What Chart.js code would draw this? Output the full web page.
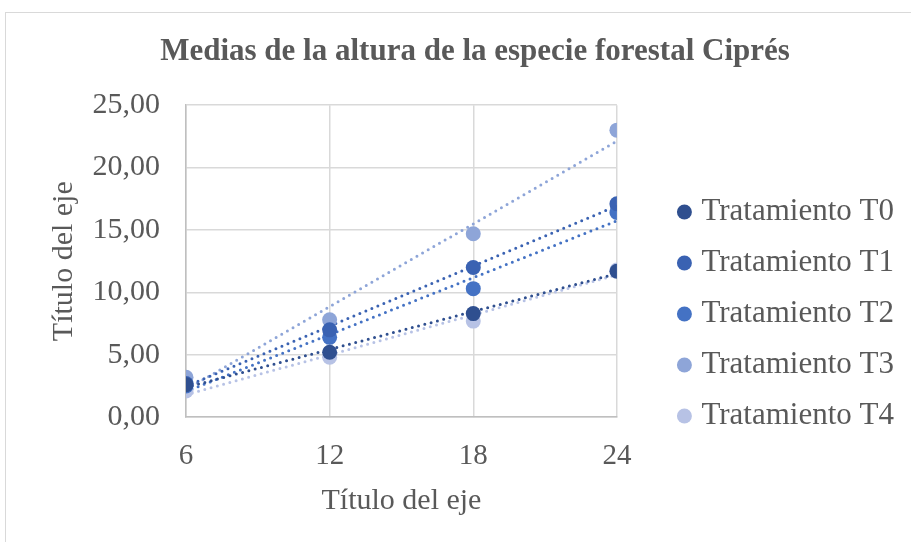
<!DOCTYPE html>
<html>
<head>
<meta charset="utf-8">
<script src="https://cdn.jsdelivr.net/npm/chart.js@4.4.0/dist/chart.umd.min.js"></script>
<style>
  html, body { margin: 0; padding: 0; background: #ffffff; overflow: hidden; }
  #frame { position: absolute; left: 5px; top: 12px; width: 1000px; height: 1000px; border: 1px solid #d9d9d9; box-sizing: border-box; }
  #wrap { position: absolute; left: 0; top: 0; width: 911px; height: 542px; }
</style>
</head>
<body>
<div id="frame"></div>
<div id="wrap"><canvas id="chart" width="911" height="542"></canvas></div>
<script>
// Edad de medición (meses) y altura media por tratamiento
const months = [6, 12, 18, 24];
const seriesNames = ['Tratamiento T0', 'Tratamiento T1', 'Tratamiento T2', 'Tratamiento T3', 'Tratamiento T4'];
const t0 = [2.6, 5.2, 8.3, 11.7];
const t1 = [2.7, 7.0, 12.0, 17.1];
const t2 = [2.5, 6.4, 10.3, 16.4];
const t3 = [3.2, 7.8, 14.7, 23.0];
const t4 = [2.1, 4.8, 7.7, 11.8];
const seriesValues = [t0, t1, t2, t3, t4];
const seriesColors = ['#2f4f8f', '#3a62b2', '#4472c4', '#8ea5d8', '#b7c2e5'];

// Recta de tendencia lineal por mínimos cuadrados
function linearTrend(xs, ys) {
  const n = xs.length;
  const mx = xs.reduce((a, b) => a + b, 0) / n;
  const my = ys.reduce((a, b) => a + b, 0) / n;
  let sxy = 0, sxx = 0;
  for (let i = 0; i < n; i++) {
    sxy += (xs[i] - mx) * (ys[i] - my);
    sxx += (xs[i] - mx) * (xs[i] - mx);
  }
  const slope = sxy / sxx;
  const icpt = my - slope * mx;
  const x0 = xs[0], x1 = xs[n - 1];
  return [{ x: x0, y: icpt + slope * x0 }, { x: x1, y: icpt + slope * x1 }];
}

const FONT = "'Liberation Serif', 'Times New Roman', serif";
const GREY = '#595959';

const datasets = [];
seriesValues.forEach((vals, i) => {
  datasets.push({
    type: 'scatter',
    label: seriesNames[i],
    data: months.map((m, j) => ({ x: m, y: vals[j] })),
    backgroundColor: seriesColors[i],
    borderColor: seriesColors[i],
    pointRadius: 7.5,
    pointHoverRadius: 7.5,
    borderWidth: 0,
    order: 0
  });
});
seriesValues.forEach((vals, i) => {
  datasets.push({
    type: 'line',
    label: 'trend-' + i,
    data: linearTrend(months, vals),
    borderColor: seriesColors[i],
    borderWidth: 3,
    borderDash: [0, 6.5],
    borderCapStyle: 'round',
    pointRadius: 0,
    fill: false,
    tension: 0,
    order: 1
  });
});

new Chart(document.getElementById('chart'), {
  data: { datasets },
  options: {
    responsive: false,
    animation: false,
    layout: { padding: { left: 46, right: 7, top: 0, bottom: 23 } },
    plugins: {
      tooltip: { enabled: false },
      title: {
        display: true,
        text: 'Medias de la altura de la especie forestal Ciprés',
        color: GREY,
        font: { family: FONT, size: 31, weight: 'bold' },
        padding: { top: 33, bottom: 35 }
      },
      legend: {
        position: 'right',
        maxWidth: 300,
        title: { display: true, text: ' ', font: { size: 10 }, padding: { top: 97, bottom: 0 } },
        labels: {
          filter: (item) => item.datasetIndex < seriesNames.length,
          usePointStyle: true,
          pointStyle: 'circle',
          boxWidth: 3,
          boxHeight: 10.6,
          padding: 20,
          color: GREY,
          font: { family: FONT, size: 31 }
        }
      }
    },
    scales: {
      x: {
        type: 'linear',
        min: 6,
        max: 24,
        ticks: {
          stepSize: 6,
          color: GREY,
          padding: 22,
          font: { family: FONT, size: 29 }
        },
        grid: { color: '#d9d9d9', lineWidth: 1.5, tickLength: 0 },
        border: { color: '#bfbfbf', width: 1.5 },
        title: {
          display: true,
          text: 'Título del eje',
          color: GREY,
          font: { family: FONT, size: 30 },
          padding: { top: -13, bottom: 0 }
        }
      },
      y: {
        min: 0,
        max: 25,
        afterFit: (scale) => { scale.width = 140; },
        ticks: {
          stepSize: 5,
          color: GREY,
          padding: 26,
          font: { family: FONT, size: 30 },
          callback: (v) => v.toFixed(2).replace('.', ',')
        },
        grid: { color: '#d9d9d9', lineWidth: 1.5, tickLength: 0 },
        border: { color: '#bfbfbf', width: 1.5 },
        title: {
          display: true,
          text: 'Título del eje',
          color: GREY,
          font: { family: FONT, size: 30 },
          padding: { top: 0, bottom: 10 }
        }
      },
      // espacio libre entre el área de trazado y la leyenda
      gap: {
        type: 'linear',
        position: 'right',
        display: true,
        afterFit: (scale) => { scale.width = 46; },
        ticks: { display: false },
        grid: { display: false },
        border: { display: false }
      }
    }
  }
});
</script>
</body>
</html>
